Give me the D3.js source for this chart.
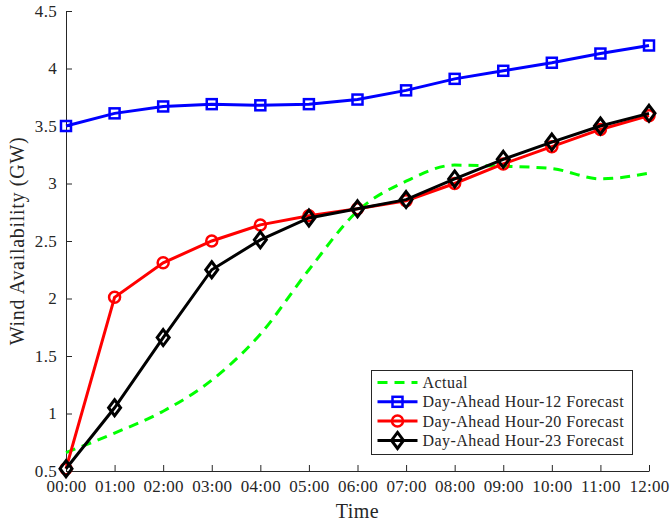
<!DOCTYPE html>
<html lang="en">
<head>
  <meta charset="UTF-8">
  <title>Wind Availability</title>
  <script src="https://d3js.org/d3.v7.min.js"></script>
  <style>
    body { margin: 0; background: #fff; }
    svg text { font-family: "Liberation Serif", "Times New Roman", serif; fill: #262626; }
    .axis path, .axis line { stroke: #262626; }
  </style>
</head>
<body>
  <svg id="chart" width="670" height="525"></svg>

  <script>
    // Hour labels along the x axis
    const hours = ["00:00", "01:00", "02:00", "03:00", "04:00", "05:00", "06:00",
                   "07:00", "08:00", "09:00", "10:00", "11:00", "12:00"];
    const yTicks = [0.5, 1, 1.5, 2, 2.5, 3, 3.5, 4, 4.5];

    // Series values (GW)
    const actual = [0.66, 0.83, 1.02, 1.29, 1.69, 2.25, 2.76, 3.02, 3.16, 3.15, 3.13, 3.04, 3.09];
    const hour12 = [3.50, 3.61, 3.67, 3.69, 3.68, 3.69, 3.73, 3.81, 3.91, 3.98, 4.05, 4.13, 4.20];
    const hour20 = [0.52, 2.01, 2.31, 2.50, 2.64, 2.72, 2.78, 2.85, 3.00, 3.17, 3.32, 3.47, 3.59];
    const hour23 = [0.52, 1.05, 1.66, 2.25, 2.51, 2.70, 2.78, 2.86, 3.04, 3.21, 3.36, 3.50, 3.61];

    const width = 670, height = 525;
    const margin = { top: 11, right: 21, bottom: 54, left: 66 };

    const svg = d3.select("#chart");

    const x = d3.scaleLinear()
      .domain([0, hours.length - 1])
      .range([margin.left, width - margin.right]);

    const y = d3.scaleLinear()
      .domain([0.5, 4.5])
      .range([height - margin.bottom, margin.top]);

    // Axes, ticks pointing inward like the MATLAB original
    svg.append("g")
      .attr("class", "axis")
      .attr("transform", `translate(0, ${height - margin.bottom})`)
      .call(d3.axisBottom(x)
        .tickValues(d3.range(hours.length))
        .tickFormat(i => hours[i])
        .tickSize(-6).tickSizeOuter(0).tickPadding(9));

    svg.append("g")
      .attr("class", "axis")
      .attr("transform", `translate(${margin.left}, 0)`)
      .call(d3.axisLeft(y)
        .tickValues(yTicks)
        .tickFormat(d => d3.format("")(d))
        .tickSize(-6).tickSizeOuter(0).tickPadding(9));

    svg.selectAll(".axis text").style("font-size", "17px").style("letter-spacing", "0.3px");
    svg.selectAll(".axis path, .axis line").attr("stroke-width", 1);

    // Axis titles
    svg.append("text")
      .attr("x", (margin.left + width - margin.right) / 2)
      .attr("y", 518)
      .attr("text-anchor", "middle")
      .style("font-size", "20px")
      .style("letter-spacing", "0.5px")
      .text("Time");

    svg.append("text")
      .attr("transform", `translate(24, ${(margin.top + height - margin.bottom) / 2}) rotate(-90)`)
      .attr("text-anchor", "middle")
      .style("font-size", "20px")
      .style("letter-spacing", "0.7px")
      .text("Wind Availability (GW)");

    const line = d3.line()
      .x((d, i) => x(i))
      .y(d => y(d));

    const smooth = d3.line()
      .x((d, i) => x(i))
      .y(d => y(d))
      .curve(d3.curveMonotoneX);

    const series = [
      { name: "Actual", values: actual, color: "#00ff00", dash: "10,7", marker: null },
      { name: "Day-Ahead Hour-12 Forecast", values: hour12, color: "#0000ff", dash: null, marker: "square" },
      { name: "Day-Ahead Hour-20 Forecast", values: hour20, color: "#ff0000", dash: null, marker: "circle" },
      { name: "Day-Ahead Hour-23 Forecast", values: hour23, color: "#000000", dash: null, marker: "diamond" }
    ];

    function drawMarker(g, type, color) {
      if (type === "square") {
        g.append("rect").attr("x", -5).attr("y", -5).attr("width", 10).attr("height", 10)
          .attr("fill", "none").attr("stroke", color).attr("stroke-width", 2.5);
      } else if (type === "circle") {
        g.append("circle").attr("r", 5.5)
          .attr("fill", "none").attr("stroke", color).attr("stroke-width", 2.5);
      } else if (type === "diamond") {
        g.append("path").attr("d", "M0,-8L6,0L0,8L-6,0Z")
          .attr("fill", "none").attr("stroke", color).attr("stroke-width", 3);
      }
    }

    series.forEach(s => {
      svg.append("path")
        .datum(s.values)
        .attr("fill", "none")
        .attr("stroke", s.color)
        .attr("stroke-width", 3)
        .attr("stroke-dasharray", s.dash)
        .attr("d", s.marker ? line : smooth);

      if (s.marker) {
        s.values.forEach((v, i) => {
          const g = svg.append("g").attr("transform", `translate(${x(i)}, ${y(v)})`);
          drawMarker(g, s.marker, s.color);
        });
      }
    });

    // Legend
    const legend = svg.append("g").attr("transform", "translate(371.5, 370.5)");
    legend.append("rect")
      .attr("width", 261).attr("height", 84)
      .attr("fill", "#fff").attr("stroke", "#262626").attr("stroke-width", 1);

    series.forEach((s, i) => {
      const row = legend.append("g").attr("transform", `translate(0, ${12 + i * 19.3})`);
      row.append("line")
        .attr("x1", 6).attr("x2", 46)
        .attr("stroke", s.color).attr("stroke-width", 3)
        .attr("stroke-dasharray", s.dash);
      if (s.marker) {
        const m = row.append("g").attr("transform", "translate(26, 0)");
        drawMarker(m, s.marker, s.color);
      }
      row.append("text")
        .attr("x", 51).attr("y", 0).attr("dy", "0.35em")
        .style("font-size", "16px")
        .style("letter-spacing", "0.45px")
        .text(s.name);
    });
  </script>
</body>
</html>
